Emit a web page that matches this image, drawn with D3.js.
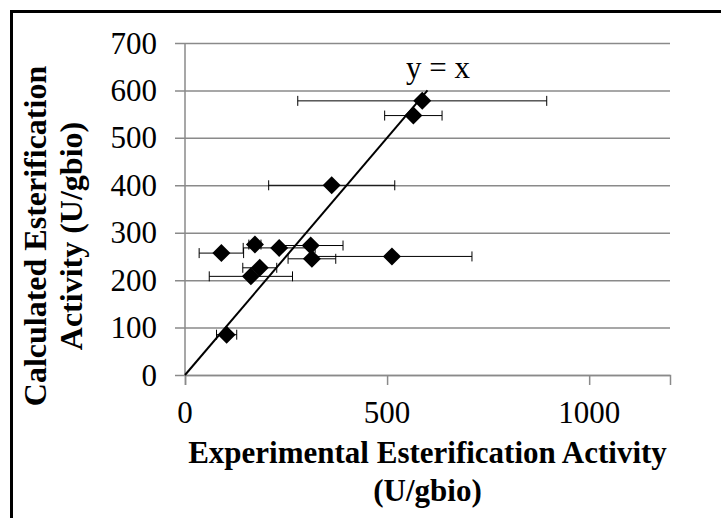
<!DOCTYPE html>
<html>
<head>
<meta charset="utf-8">
<script src="https://cdn.jsdelivr.net/npm/d3@7"></script>
<style>
  body { margin: 0; background: #fff; }
  svg text { font-family: "Liberation Serif", "Times New Roman", serif; fill: #000; }
</style>
</head>
<body>
<div id="chart"></div>
<script>
// activité mesurée vs calculée (U/gbio)
const experimental = [587, 565, 363, 90, 173, 233, 311, 314, 512, 185, 163, 103];
const calculated   = [578, 547, 400, 257, 275, 268, 273, 245, 250, 226, 208, 85];
const expError     = [308, 71, 156, 55, 15, 89, 80, 59, 198, 42, 103, 25];

const xTicks = [0, 500, 1000];
const yTicks = [0, 100, 200, 300, 400, 500, 600, 700];
const identity = [0, 600];

const W = 721, H = 518;
const margin = { top: 43, right: 51, bottom: 143, left: 185 },
    width = W - margin.left - margin.right,
    height = H - margin.top - margin.bottom;

const root = d3.select("#chart")
    .append("svg")
    .attr("width", W)
    .attr("height", H);

// cadre noir (déborde à droite et en bas)
root.append("rect")
    .attr("x", 11.5)
    .attr("y", 11.5)
    .attr("width", 720)
    .attr("height", 520)
    .attr("fill", "none")
    .attr("stroke", "#000")
    .attr("stroke-width", 3);

const svg = root.append("g")
    .attr("transform", `translate(${margin.left}, ${margin.top})`);

const x = d3.scaleLinear().domain([0, 1200]).range([0, width]);
const y = d3.scaleLinear().domain([0, 700]).range([height, 0]);

/*** grille + axe Y ***/
svg.append("g")
    .call(d3.axisLeft(y).tickValues(yTicks).tickSize(-width - 10).tickFormat(""))
    .call(g => g.select(".domain").remove())
    .call(g => g.selectAll(".tick line")
        .attr("x1", -10).attr("x2", width)
        .attr("stroke", "#8a8a8a").attr("stroke-width", 1.5));

svg.append("line")
    .attr("x1", 0).attr("x2", 0)
    .attr("y1", 0).attr("y2", height)
    .attr("stroke", "#8a8a8a").attr("stroke-width", 1.5);

svg.selectAll(".ylab")
    .data(yTicks)
    .join("text")
    .attr("class", "ylab")
    .attr("x", -28)
    .attr("y", d => y(d))
    .attr("dy", "0.34em")
    .attr("text-anchor", "end")
    .style("font-size", "31px")
    .text(d => d);

/*** axe X ***/
svg.append("g")
    .attr("transform", `translate(0, ${height})`)
    .call(d3.axisBottom(x).tickValues(xTicks).tickSize(10).tickFormat(""))
    .call(g => g.select(".domain").attr("stroke", "#8a8a8a").attr("stroke-width", 1.5))
    .call(g => g.selectAll(".tick line").attr("stroke", "#8a8a8a").attr("stroke-width", 1.5));

svg.selectAll(".xlab")
    .data(xTicks)
    .join("text")
    .attr("class", "xlab")
    .attr("x", d => x(d))
    .attr("y", height + 48)
    .attr("text-anchor", "middle")
    .style("font-size", "31px")
    .text(d => d);

/*** titres ***/
const xTitle = svg.append("text")
    .attr("text-anchor", "middle")
    .style("font-size", "31px")
    .style("font-weight", "bold");
xTitle.append("tspan").attr("x", width / 2).attr("y", height + 88).text("Experimental Esterification Activity");
xTitle.append("tspan").attr("x", width / 2).attr("y", height + 126).text("(U/gbio)");

// titre Y : deux lignes centrées
const yTitle = root.append("text")
    .attr("transform", "translate(0, 236) rotate(-90)")
    .attr("text-anchor", "middle")
    .style("font-size", "32px")
    .style("font-weight", "bold");
yTitle.append("tspan").attr("x", 0).attr("y", 46).text("Calculated Esterification");
yTitle.append("tspan").attr("x", 0).attr("y", 82).text("Activity (U/gbio)");

/*** droite y = x ***/
svg.append("line")
    .attr("x1", x(identity[0])).attr("y1", y(identity[0]))
    .attr("x2", x(identity[1])).attr("y2", y(identity[1]))
    .attr("stroke", "#000")
    .attr("stroke-width", 2);

svg.append("text")
    .attr("x", x(626))
    .attr("y", y(626))
    .attr("text-anchor", "middle")
    .style("font-size", "31px")
    .text("y = x");

/*** barres d'erreur ***/
const pts = experimental.map((d, i) => ({ ex: d, calc: calculated[i], err: expError[i] }));

const bars = svg.append("g").attr("stroke", "#000").attr("stroke-width", 1);
bars.selectAll(".eb")
    .data(pts)
    .join("line")
    .attr("x1", d => x(d.ex - d.err))
    .attr("x2", d => x(d.ex + d.err))
    .attr("y1", d => y(d.calc))
    .attr("y2", d => y(d.calc));
bars.selectAll(".capL")
    .data(pts)
    .join("line")
    .attr("x1", d => x(d.ex - d.err)).attr("x2", d => x(d.ex - d.err))
    .attr("y1", d => y(d.calc) - 5).attr("y2", d => y(d.calc) + 5);
bars.selectAll(".capR")
    .data(pts)
    .join("line")
    .attr("x1", d => x(d.ex + d.err)).attr("x2", d => x(d.ex + d.err))
    .attr("y1", d => y(d.calc) - 5).attr("y2", d => y(d.calc) + 5);

/*** points ***/
svg.selectAll(".pt")
    .data(pts)
    .join("path")
    .attr("class", "pt")
    .attr("transform", d => `translate(${x(d.ex)}, ${y(d.calc)})`)
    .attr("d", "M0,-9L9,0L0,9L-9,0Z")
    .attr("fill", "#000");
</script>
</body>
</html>
